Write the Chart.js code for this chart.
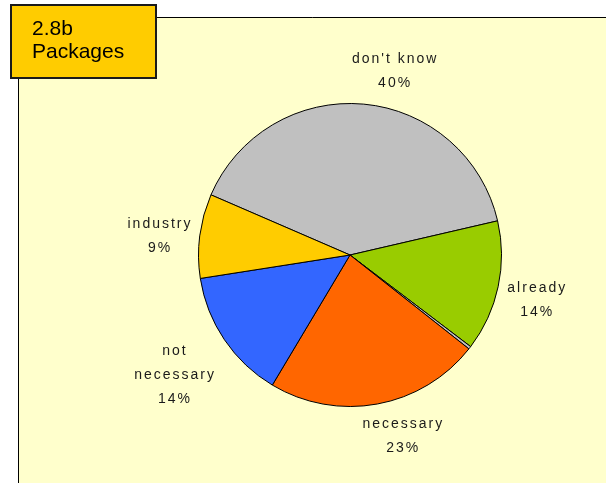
<!DOCTYPE html>
<html>
<head>
<meta charset="utf-8">
<script src="https://cdn.jsdelivr.net/npm/chart.js@4"></script>
<style>
  html, body { margin: 0; padding: 0; background: #ffffff; }
  #wrap { width: 606px; height: 483px; position: relative; }
</style>
</head>
<body>
<div id="wrap"><canvas id="c" width="606" height="483"></canvas></div>
<script>
// Survey answers on packages (share of respondents, %)
const categories = ["don't know", 'already', '', 'necessary', 'not\nnecessary', 'industry'];
const shares = [40, 14, 0.3, 23, 14, 9];
const sliceColors = ['#C0C0C0', '#99CC00', '#C0C0C0', '#FF6600', '#3366FF', '#FFCC00'];
const titleLines = ['2.8b', 'Packages'];

// Panel background, frame and the title box
const panelPlugin = {
  id: 'panel',
  beforeDraw(chart) {
    const ctx = chart.ctx;
    ctx.save();
    ctx.fillStyle = '#FFFFCC';
    ctx.fillRect(18, 17, 606 - 18, 483 - 17);
    ctx.strokeStyle = '#000000';
    ctx.lineWidth = 1;
    ctx.beginPath();
    ctx.moveTo(18.5, 483);
    ctx.lineTo(18.5, 17.5);
    ctx.lineTo(606, 17.5);
    ctx.stroke();
    ctx.restore();
  },
  afterDraw(chart) {
    const ctx = chart.ctx;
    ctx.save();
    ctx.fillStyle = '#FFCC00';
    ctx.fillRect(11, 5, 145, 73);
    ctx.strokeStyle = '#1a1a1a';
    ctx.lineWidth = 2;
    ctx.strokeRect(11, 5, 145, 73);
    ctx.fillStyle = '#000000';
    ctx.font = '21px "Liberation Sans", Arial, sans-serif';
    ctx.textAlign = 'left';
    ctx.textBaseline = 'alphabetic';
    titleLines.forEach((t, i) => ctx.fillText(t, 32, 35 + i * 23));
    ctx.restore();
  }
};

// Small per-slice adjustments of the label blocks (px), to keep them clear of the pie
const labelNudge = [[28, 5], [2, 5], [0, 0], [19, -5], [-3, 4], [-2, 5]];

// Category name and percentage placed outside each slice
const outsideLabels = {
  id: 'outsideLabels',
  afterDatasetsDraw(chart) {
    const ctx = chart.ctx;
    const meta = chart.getDatasetMeta(0);
    const values = chart.data.datasets[0].data;
    ctx.save();
    ctx.font = '14px "Liberation Sans", Arial, sans-serif';
    ctx.fillStyle = '#1a1a1a';
    ctx.textAlign = 'center';
    ctx.textBaseline = 'middle';
    if ('letterSpacing' in ctx) ctx.letterSpacing = '2px';
    const lineH = 24;
    meta.data.forEach((arc, i) => {
      const name = chart.data.labels[i];
      if (!name) return;
      const lines = name.split('\n').concat([values[i] + '%']);
      const mid = (arc.startAngle + arc.endAngle) / 2;
      const dist = arc.outerRadius + lines.length * 18 + 2;
      const cx = arc.x + Math.cos(mid) * dist + labelNudge[i][0];
      const cy = arc.y + Math.sin(mid) * dist + labelNudge[i][1];
      const top = cy - (lines.length - 1) * lineH / 2;
      lines.forEach((t, k) => ctx.fillText(t, cx, top + k * lineH));
    });
    ctx.restore();
  }
};

new Chart(document.getElementById('c'), {
  type: 'pie',
  data: {
    labels: categories,
    datasets: [{
      data: shares,
      backgroundColor: sliceColors,
      borderColor: '#000000',
      borderWidth: 1
    }]
  },
  options: {
    responsive: false,
    animation: false,
    rotation: -66.6,
    layout: { padding: { left: 198, right: 104, top: 103, bottom: 76 } },
    plugins: {
      legend: { display: false },
      tooltip: { enabled: false }
    }
  },
  plugins: [panelPlugin, outsideLabels]
});
</script>
</body>
</html>
